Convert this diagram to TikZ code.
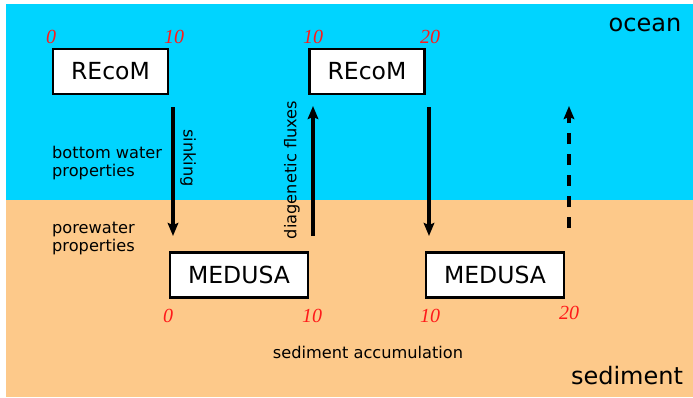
\documentclass[tikz,border=0pt]{standalone}
\usepackage{fontspec}
\setmainfont{DejaVu Sans}
\newfontfamily\numfont{Liberation Serif}
\usetikzlibrary{arrows.meta}
\definecolor{oceanblue}{HTML}{00D4FF}
\definecolor{sedbeige}{HTML}{FDC98A}
\definecolor{tickred}{HTML}{FF1A1A}
\begin{document}
\begin{tikzpicture}[x=1pt,y=-1pt,
  model/.style={draw=black,line width=2.7pt,fill=white,minimum width=115pt,minimum height=45pt,inner sep=0pt,font=\fontsize{23.5}{26}\selectfont},
  medbox/.style={model,minimum width=138pt},
  tick/.style={text=tickred,font=\numfont\itshape\fontsize{20}{22}\selectfont,inner sep=0pt},
  lbl/.style={font=\fontsize{16.2}{18}\selectfont,inner sep=0pt,align=left},
  flux/.style={line width=3.2pt,-{Stealth[length=13pt,width=10.5pt,inset=2pt]}},
  big/.style={font=\fontsize{24}{26}\selectfont,inner sep=0pt}]
\useasboundingbox (0,0) rectangle (693,397);
% water column and sediment layers
\fill[oceanblue] (6,4) rectangle (693,200);
\fill[sedbeige] (6,200) rectangle (693,397);
% model boxes
\node[model] (r1) at (110.5,71.5) {REcoM};
\node[model] (r2) at (367,71.5) {REcoM};
\node[medbox] (m1) at (239,275) {MEDUSA};
\node[medbox] (m2) at (495,275) {MEDUSA};
% time marks
\node[tick] (t1) at (51,37) {0};
\node[tick] (t2) at (174,37) {10};
\node[tick] (t3) at (313,37) {10};
\node[tick] (t4) at (430,37) {20};
\node[tick] (t5) at (168,316) {0};
\node[tick] (t6) at (312,316) {10};
\node[tick] (t7) at (430,316) {10};
\node[tick] (t8) at (569,313) {20};
% arrow end points
\coordinate (a1s) at (173,107); \coordinate (a1e) at (173,236);
\coordinate (a2s) at (313,236); \coordinate (a2e) at (313,106);
\coordinate (a3s) at (429,107); \coordinate (a3e) at (429,236);
\coordinate (a4s) at (569,228); \coordinate (a4e) at (569,106);
\draw[flux] (a1s) -- (a1e);
\draw[flux] (a2s) -- (a2e);
\draw[flux] (a3s) -- (a3e);
\draw[flux,dash pattern=on 11pt off 10pt] (a4s) -- (a4e);
% labels
\node[lbl,rotate=-90] (sink) at (188,158) {sinking};
\node[lbl,rotate=90] (diag) at (292,170) {diagenetic fluxes};
\node[lbl,anchor=west] (bw) at (52,163) {bottom water\\properties};
\node[lbl,anchor=west] (pw) at (52,238) {porewater\\properties};
\node[lbl] (acc) at (368,352) {sediment accumulation};
\node[big] (oc) at (645,25) {ocean};
\node[big] (sed) at (627,376) {sediment};
\end{tikzpicture}
\end{document}
